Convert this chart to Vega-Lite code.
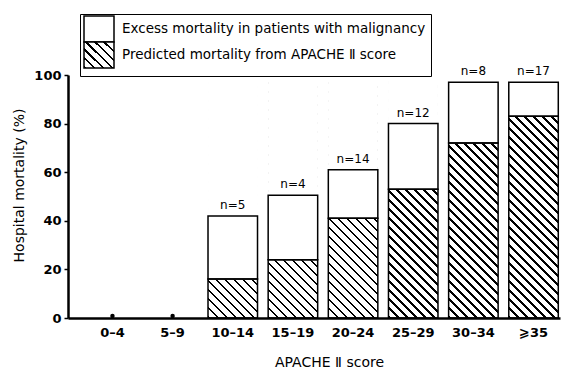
{
  "$schema": "https://vega.github.io/schema/vega-lite/v6.json",
  "width": 492,
  "height": 243,
  "autosize": "none",
  "padding": {"left": 68, "top": 75, "right": 11, "bottom": 54},
  "background": "white",
  "config": {
    "view": {"stroke": null},
    "font": "DejaVu Sans",
    "axis": {"labelFont": "DejaVu Sans", "titleFont": "DejaVu Sans", "labelColor": "black", "titleColor": "black", "grid": false}
  },
  "data": {
    "values": [
      {"score": "0–4", "total": 0, "predicted": 0, "n": ""},
      {"score": "5–9", "total": 0, "predicted": 0, "n": ""},
      {"score": "10–14", "total": 42, "predicted": 16, "n": "n=5"},
      {"score": "15–19", "total": 50.5, "predicted": 24, "n": "n=4"},
      {"score": "20–24", "total": 61, "predicted": 41, "n": "n=14"},
      {"score": "25–29", "total": 80, "predicted": 53, "n": "n=12"},
      {"score": "30–34", "total": 97, "predicted": 72, "n": "n=8"},
      {"score": "⩾35", "total": 97, "predicted": 83, "n": "n=17"}
    ]
  },
  "encoding": {
    "x": {
      "field": "score",
      "type": "ordinal",
      "scale": {
        "domain": ["0–4", "5–9", "10–14", "15–19", "20–24", "25–29", "30–34", "⩾35"],
        "paddingInner": 0.177,
        "paddingOuter": 0.178,
        "align": 0.92
      },
      "axis": {
        "title": "APACHE Ⅱ score",
        "titleFontSize": 14,
        "titleFontWeight": "normal",
        "titleX": 261,
        "titleY": 44,
        "titleBaseline": "middle",
        "labelAngle": 0,
        "labelFontWeight": "bold",
        "labelFontSize": 13,
        "labelPadding": 8,
        "ticks": false,
        "tickSize": 0,
        "domainColor": "black",
        "domainWidth": 2.5,
        "zindex": 1
      }
    }
  },
  "layer": [
    {
      "transform": [{"filter": "datum.total > 0"}],
      "mark": {
        "type": "bar",
        "strokeWidth": 0,
        "fill": {
          "gradient": "linear",
          "x1": 0, "y1": 1, "x2": 0.23181, "y2": -0.13797,
          "stops": [
            {"offset": 0, "color": "#000"}, {"offset": 0.009, "color": "#000"}, {"offset": 0.009, "color": "#fff"}, {"offset": 0.03125, "color": "#fff"},
            {"offset": 0.03125, "color": "#000"}, {"offset": 0.04025, "color": "#000"}, {"offset": 0.04025, "color": "#fff"}, {"offset": 0.0625, "color": "#fff"},
            {"offset": 0.0625, "color": "#000"}, {"offset": 0.0715, "color": "#000"}, {"offset": 0.0715, "color": "#fff"}, {"offset": 0.09375, "color": "#fff"},
            {"offset": 0.09375, "color": "#000"}, {"offset": 0.10275, "color": "#000"}, {"offset": 0.10275, "color": "#fff"}, {"offset": 0.125, "color": "#fff"},
            {"offset": 0.125, "color": "#000"}, {"offset": 0.134, "color": "#000"}, {"offset": 0.134, "color": "#fff"}, {"offset": 0.15625, "color": "#fff"},
            {"offset": 0.15625, "color": "#000"}, {"offset": 0.16525, "color": "#000"}, {"offset": 0.16525, "color": "#fff"}, {"offset": 0.1875, "color": "#fff"},
            {"offset": 0.1875, "color": "#000"}, {"offset": 0.1965, "color": "#000"}, {"offset": 0.1965, "color": "#fff"}, {"offset": 0.21875, "color": "#fff"},
            {"offset": 0.21875, "color": "#000"}, {"offset": 0.22775, "color": "#000"}, {"offset": 0.22775, "color": "#fff"}, {"offset": 0.25, "color": "#fff"},
            {"offset": 0.25, "color": "#000"}, {"offset": 0.259, "color": "#000"}, {"offset": 0.259, "color": "#fff"}, {"offset": 0.28125, "color": "#fff"},
            {"offset": 0.28125, "color": "#000"}, {"offset": 0.29025, "color": "#000"}, {"offset": 0.29025, "color": "#fff"}, {"offset": 0.3125, "color": "#fff"},
            {"offset": 0.3125, "color": "#000"}, {"offset": 0.3215, "color": "#000"}, {"offset": 0.3215, "color": "#fff"}, {"offset": 0.34375, "color": "#fff"},
            {"offset": 0.34375, "color": "#000"}, {"offset": 0.35275, "color": "#000"}, {"offset": 0.35275, "color": "#fff"}, {"offset": 0.375, "color": "#fff"},
            {"offset": 0.375, "color": "#000"}, {"offset": 0.384, "color": "#000"}, {"offset": 0.384, "color": "#fff"}, {"offset": 0.40625, "color": "#fff"},
            {"offset": 0.40625, "color": "#000"}, {"offset": 0.41525, "color": "#000"}, {"offset": 0.41525, "color": "#fff"}, {"offset": 0.4375, "color": "#fff"},
            {"offset": 0.4375, "color": "#000"}, {"offset": 0.4465, "color": "#000"}, {"offset": 0.4465, "color": "#fff"}, {"offset": 0.46875, "color": "#fff"},
            {"offset": 0.46875, "color": "#000"}, {"offset": 0.47775, "color": "#000"}, {"offset": 0.47775, "color": "#fff"}, {"offset": 0.5, "color": "#fff"},
            {"offset": 0.5, "color": "#000"}, {"offset": 0.509, "color": "#000"}, {"offset": 0.509, "color": "#fff"}, {"offset": 0.53125, "color": "#fff"},
            {"offset": 0.53125, "color": "#000"}, {"offset": 0.54025, "color": "#000"}, {"offset": 0.54025, "color": "#fff"}, {"offset": 0.5625, "color": "#fff"},
            {"offset": 0.5625, "color": "#000"}, {"offset": 0.5715, "color": "#000"}, {"offset": 0.5715, "color": "#fff"}, {"offset": 0.59375, "color": "#fff"},
            {"offset": 0.59375, "color": "#000"}, {"offset": 0.60275, "color": "#000"}, {"offset": 0.60275, "color": "#fff"}, {"offset": 0.625, "color": "#fff"},
            {"offset": 0.625, "color": "#000"}, {"offset": 0.634, "color": "#000"}, {"offset": 0.634, "color": "#fff"}, {"offset": 0.65625, "color": "#fff"},
            {"offset": 0.65625, "color": "#000"}, {"offset": 0.66525, "color": "#000"}, {"offset": 0.66525, "color": "#fff"}, {"offset": 0.6875, "color": "#fff"},
            {"offset": 0.6875, "color": "#000"}, {"offset": 0.6965, "color": "#000"}, {"offset": 0.6965, "color": "#fff"}, {"offset": 0.71875, "color": "#fff"},
            {"offset": 0.71875, "color": "#000"}, {"offset": 0.72775, "color": "#000"}, {"offset": 0.72775, "color": "#fff"}, {"offset": 0.75, "color": "#fff"},
            {"offset": 0.75, "color": "#000"}, {"offset": 0.759, "color": "#000"}, {"offset": 0.759, "color": "#fff"}, {"offset": 0.78125, "color": "#fff"},
            {"offset": 0.78125, "color": "#000"}, {"offset": 0.79025, "color": "#000"}, {"offset": 0.79025, "color": "#fff"}, {"offset": 0.8125, "color": "#fff"},
            {"offset": 0.8125, "color": "#000"}, {"offset": 0.8215, "color": "#000"}, {"offset": 0.8215, "color": "#fff"}, {"offset": 0.84375, "color": "#fff"},
            {"offset": 0.84375, "color": "#000"}, {"offset": 0.85275, "color": "#000"}, {"offset": 0.85275, "color": "#fff"}, {"offset": 0.875, "color": "#fff"},
            {"offset": 0.875, "color": "#000"}, {"offset": 0.884, "color": "#000"}, {"offset": 0.884, "color": "#fff"}, {"offset": 0.90625, "color": "#fff"},
            {"offset": 0.90625, "color": "#000"}, {"offset": 0.91525, "color": "#000"}, {"offset": 0.91525, "color": "#fff"}, {"offset": 0.9375, "color": "#fff"},
            {"offset": 0.9375, "color": "#000"}, {"offset": 0.9465, "color": "#000"}, {"offset": 0.9465, "color": "#fff"}, {"offset": 0.96875, "color": "#fff"},
            {"offset": 0.96875, "color": "#000"}, {"offset": 0.97775, "color": "#000"}, {"offset": 0.97775, "color": "#fff"}, {"offset": 1, "color": "#fff"}
          ]
        }
      },
      "encoding": {
        "y": {
          "datum": 100,
          "type": "quantitative",
          "scale": {"domain": [0, 100], "nice": false},
          "axis": {
            "title": "Hospital mortality (%)",
            "titleFontSize": 14,
            "titleFontWeight": "normal",
            "titleX": -49,
            "titleY": 110,
            "titleBaseline": "middle",
            "values": [0, 10, 20, 30, 40, 50, 60, 70, 80, 90, 100],
            "labelExpr": "datum.value % 20 === 0 ? datum.label : ''",
            "labelFontWeight": "bold",
            "labelFontSize": 13,
            "labelPadding": 3,
            "tickSize": 4,
            "tickWidth": 1.5,
            "tickColor": "black",
            "domainColor": "black",
            "domainWidth": 2.5
          }
        },
        "y2": {"datum": 0}
      }
    },
    {
      "transform": [{"filter": "datum.total > 0"}],
      "mark": {"type": "bar", "fill": "white", "stroke": "white", "strokeWidth": 1},
      "encoding": {
        "y": {"field": "predicted", "type": "quantitative", "stack": null, "scale": {"domain": [0, 100], "nice": false}},
        "y2": {"datum": 100}
      }
    },
    {
      "transform": [{"filter": "datum.total > 0"}],
      "mark": {"type": "bar", "stroke": "black", "strokeWidth": 1.5},
      "encoding": {
        "y": {"field": "total", "type": "quantitative", "stack": null, "scale": {"domain": [0, 100], "nice": false}},
        "y2": {"field": "predicted"},
        "fill": {
          "datum": "Excess mortality in patients with malignancy",
          "type": "nominal",
          "scale": {
            "domain": ["Excess mortality in patients with malignancy", "Predicted mortality from APACHE Ⅱ score"],
            "range": [
              "white",
              {"expr": "{gradient: 'linear', x1: 0, y1: 1, x2: 1.0279, y2: 0.1091, stops: [{offset: 0, color: '#000'}, {offset: 0.048, color: '#000'}, {offset: 0.048, color: '#fff'}, {offset: 0.16667, color: '#fff'}, {offset: 0.16667, color: '#000'}, {offset: 0.21467, color: '#000'}, {offset: 0.21467, color: '#fff'}, {offset: 0.33333, color: '#fff'}, {offset: 0.33333, color: '#000'}, {offset: 0.38133, color: '#000'}, {offset: 0.38133, color: '#fff'}, {offset: 0.5, color: '#fff'}, {offset: 0.5, color: '#000'}, {offset: 0.548, color: '#000'}, {offset: 0.548, color: '#fff'}, {offset: 0.66667, color: '#fff'}, {offset: 0.66667, color: '#000'}, {offset: 0.71467, color: '#000'}, {offset: 0.71467, color: '#fff'}, {offset: 0.83333, color: '#fff'}, {offset: 0.83333, color: '#000'}, {offset: 0.88133, color: '#000'}, {offset: 0.88133, color: '#fff'}, {offset: 1, color: '#fff'}]}"}
            ]
          },
          "legend": {
            "title": null,
            "orient": "none",
            "legendX": 12,
            "legendY": -61,
            "direction": "vertical",
            "symbolType": "M-1.2222,-1.4444H2.1111V1.4444H-1.2222Z",
            "symbolSize": 324,
            "symbolStrokeColor": "black",
            "symbolStrokeWidth": 1.5,
            "labelFont": "DejaVu Sans",
            "labelFontSize": 13.5,
            "labelColor": "black",
            "labelLimit": 400,
            "labelOffset": 17,
            "rowPadding": -6,
            "padding": 5,
            "strokeColor": "black"
          }
        }
      }
    },
    {
      "transform": [{"filter": "datum.total > 0"}],
      "mark": {"type": "bar", "fill": "transparent", "stroke": "black", "strokeWidth": 1.5},
      "encoding": {
        "y": {"field": "predicted", "type": "quantitative", "stack": null, "scale": {"domain": [0, 100], "nice": false}},
        "y2": {"datum": 0}
      }
    },
    {
      "transform": [{"filter": "datum.total > 0"}],
      "mark": {"type": "text", "font": "DejaVu Sans", "fontSize": 12, "color": "black", "baseline": "alphabetic", "dy": -7},
      "encoding": {
        "y": {"field": "total", "type": "quantitative", "scale": {"domain": [0, 100], "nice": false}},
        "text": {"field": "n", "type": "nominal"}
      }
    },
    {
      "transform": [{"filter": "datum.total === 0"}],
      "mark": {"type": "point", "shape": "circle", "filled": true, "color": "black", "size": 20, "opacity": 1, "yOffset": -2},
      "encoding": {
        "y": {"field": "total", "type": "quantitative", "scale": {"domain": [0, 100], "nice": false}}
      }
    }
  ]
}
